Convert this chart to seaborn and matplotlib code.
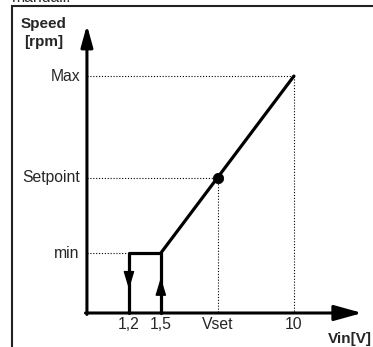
import numpy as np
import pandas as pd
import seaborn as sns
import matplotlib.pyplot as plt


# schematic positions (arbitrary units)
X_LABELS = ['1,2', '1,5', 'Vset', '10']
X_POS = [2.03, 3.57, 6.33, 10.0]
Y_LABELS = ['min', 'Setpoint', 'Max']
Y_POS = [2.53, 5.70, 10.0]

# hysteresis loop at start-up and linear speed ramp
LOOP_X = [X_POS[0], X_POS[0], X_POS[1], X_POS[1]]
LOOP_Y = [0.0, Y_POS[0], Y_POS[0], 0.0]
RAMP_X = [X_POS[1], X_POS[3]]
RAMP_Y = [Y_POS[0], Y_POS[2]]

XMAX = 13.3
YMAX = 12.15
FS = 11.3


def _arrow(ax, start, end, hl, hw, lw=2.2):
    ax.annotate(
        '', xy=end, xytext=start,
        arrowprops=dict(
            arrowstyle=f'-|>,head_length={hl},head_width={hw}',
            color='black', lw=lw, shrinkA=0, shrinkB=0,
            mutation_scale=10,
        ),
    )


def main():
    sns.set_style('white')
    plt.rcParams['font.family'] = ['Liberation Sans', 'DejaVu Sans']

    fig = plt.figure(figsize=(3.73, 3.47), dpi=100)
    ax = fig.add_axes([0, 0, 1, 1])
    ax.set_xlim(-4.2, 13.82)
    ax.set_ylim(-1.435, 13.21)
    ax.axis('off')

    # Frame of the manual box, with the page text cut by the crop
    ax.plot([12 / 373, 12 / 373, 1.0], [0.0, 1 - 6 / 347, 1 - 6 / 347],
            transform=ax.transAxes, color='#222222', lw=1.5,
            solid_joinstyle='miter')
    fig.text(12 / 373, 1 - 2 / 347, 'manuali.', fontsize=FS,
             va='baseline', ha='left')

    # Dotted guides
    dot = dict(color='black', lw=0.8, linestyle=(0, (1, 1.6)))
    for xp, yp in [(X_POS[3], Y_POS[2]), (X_POS[2], Y_POS[1])]:
        ax.plot([0, xp], [yp, yp], **dot)
        ax.plot([xp, xp], [yp, 0], **dot)
    ax.plot([0, X_POS[0]], [Y_POS[0], Y_POS[0]], **dot)

    # Curves
    loop = pd.DataFrame({'x': LOOP_X, 'y': LOOP_Y})
    ramp = pd.DataFrame({'x': RAMP_X, 'y': RAMP_Y})
    for df in (loop, ramp):
        sns.lineplot(data=df, x='x', y='y', sort=False, estimator=None,
                     errorbar=None, color='black', lw=2.3, ax=ax)
    sns.scatterplot(x=[X_POS[2]], y=[Y_POS[1]], color='black', s=55,
                    edgecolor='black', ax=ax, zorder=5)

    # Direction arrows on the loop
    _arrow(ax, (X_POS[0], 1.7), (X_POS[0], 1.0), 1.1, 0.33, lw=1.0)
    _arrow(ax, (X_POS[1], 0.8), (X_POS[1], 1.5), 1.1, 0.33, lw=1.0)

    # Axes with arrows
    _arrow(ax, (-0.07, 0), (XMAX, 0), 1.7, 0.47)
    _arrow(ax, (0, -0.06), (0, YMAX), 1.3, 0.36)

    # Labels
    for lab, yp in zip(Y_LABELS, Y_POS):
        ax.text(-0.34, yp, lab, ha='right', va='center', fontsize=FS)
    for lab, xp in zip(X_LABELS, X_POS):
        ax.text(xp, -0.5, lab, ha='center', va='center', fontsize=FS)
    ax.text(13.77, -1.1, 'Vin[V]', ha='right', va='center', fontsize=11,
            fontweight='bold')
    ax.text(-2.08, 11.8, 'Speed\n[rpm]', ha='center', va='center',
            fontsize=11, fontweight='bold', multialignment='center',
            linespacing=1.35)

    fig.savefig('out.png', dpi=100)
    plt.close(fig)


if __name__ == '__main__':
    main()
